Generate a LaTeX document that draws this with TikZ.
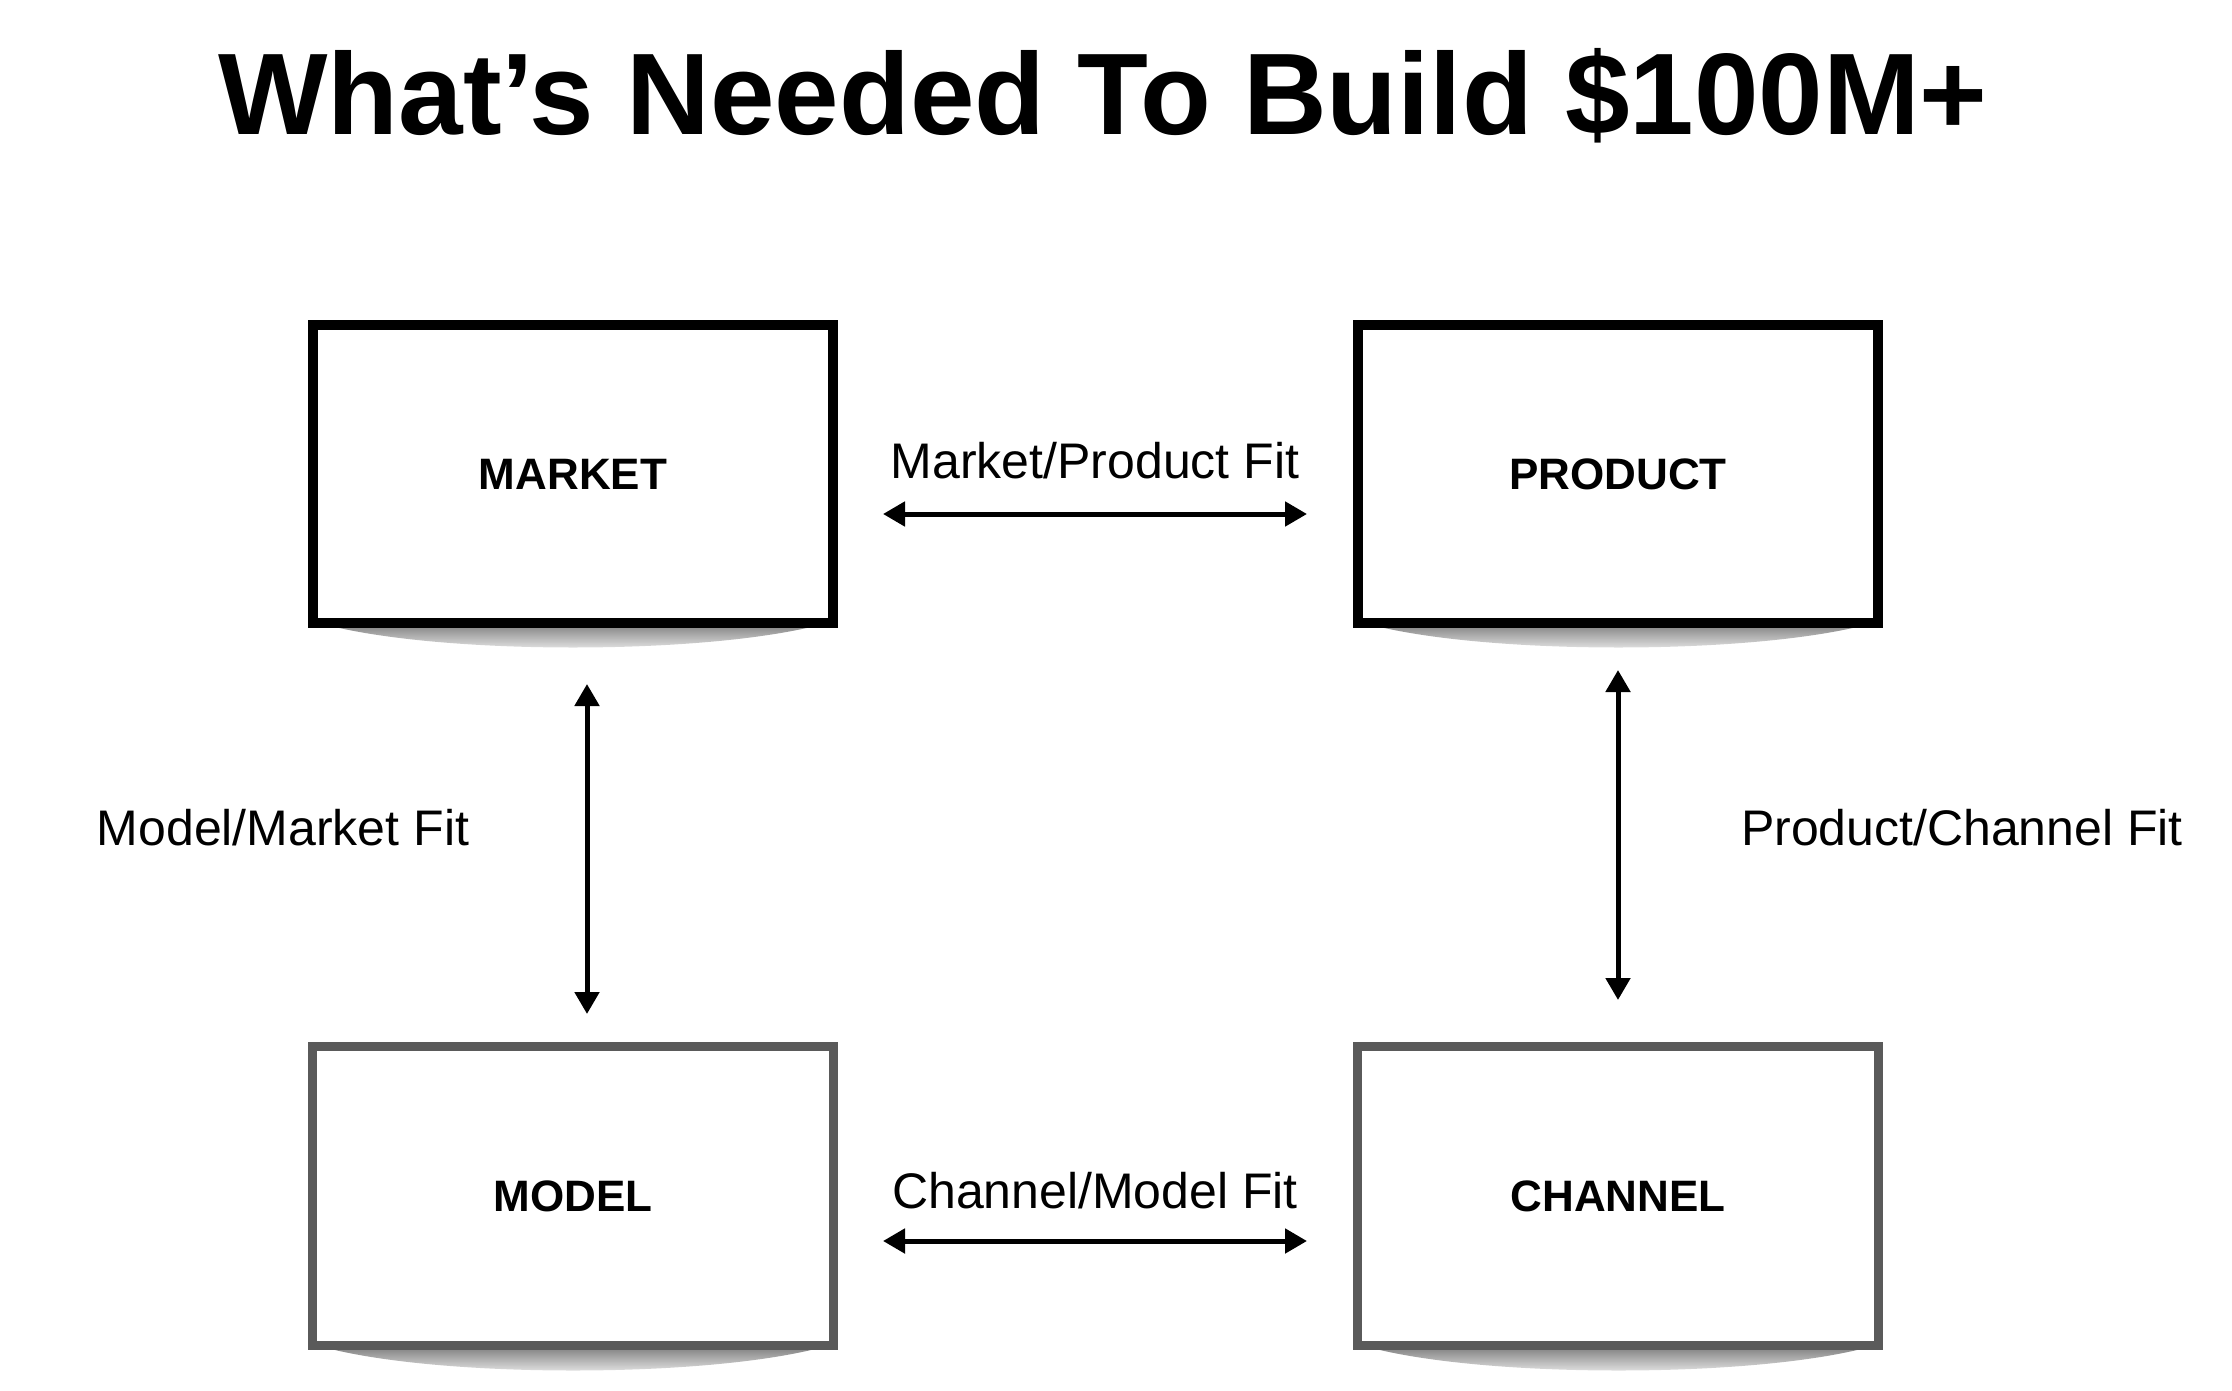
\documentclass[tikz,border=0pt]{standalone}
\usepackage{fontspec}
\setmainfont{Liberation Sans}
\usetikzlibrary{arrows.meta}
\definecolor{boxgrey}{RGB}{90,90,90}
\tikzset{
  topbox/.style={draw=black, line width=10pt, fill=white, minimum width=520pt, minimum height=298pt, inner sep=0pt,
    font=\fontsize{44}{52}\selectfont\bfseries},
  botbox/.style={topbox, draw=boxgrey, line width=9pt, minimum width=521pt, minimum height=299pt},
  fitlabel/.style={font=\fontsize{50}{60}\selectfont, anchor=base, inner sep=0pt},
  arr/.style={line width=5pt, {Triangle[length=22pt,width=24pt]}-{Triangle[length=22pt,width=24pt]}},
}
\newcommand{\boxshadow}[3]{% xleft, xright, ybottom
  \shade[top color=black!70, bottom color=white, opacity=0.75]
    (#1+6,#3-4) -- (#2-6,#3-4) .. controls (#2-120,#3+30) and (#1+120,#3+30) .. (#1+6,#3-4) -- cycle;
}
\begin{document}
\begin{tikzpicture}[x=1pt, y=-1pt]
\useasboundingbox (0,0) rectangle (2232,1391);
\fill[white] (0,0) rectangle (2232,1391);

\node[font=\fontsize{116}{130}\selectfont\bfseries, anchor=base, inner sep=0pt] (title) at (1103,135) {What’s Needed To Build \$100M+};

\boxshadow{310}{836}{626}
\boxshadow{1355}{1882}{626}
\boxshadow{310}{836}{1349}
\boxshadow{1355}{1882}{1349}

\node[topbox] (market) at (573,474) {MARKET};
\node[topbox] (product) at (1618,474) {PRODUCT};
\node[botbox] (model) at (573,1196) {MODEL};
\node[botbox] (channel) at (1618,1196) {CHANNEL};

\draw[arr] ([xshift=45pt,yshift=-40pt]market.east) -- ([xshift=-46pt,yshift=-40pt]product.west);
\draw[arr] ([xshift=45pt,yshift=-45pt]model.east) -- ([xshift=-46pt,yshift=-45pt]channel.west);
\draw[arr] ([xshift=14pt,yshift=-56pt]market.south) -- ([xshift=14pt,yshift=28pt]model.north);
\draw[arr] ([yshift=-42pt]product.south) -- ([yshift=42pt]channel.north);

\node[fitlabel] (mpfit) at (1095,478) {Market/Product Fit};
\node[fitlabel] (cmfit) at (1095,1208) {Channel/Model Fit};
\node[fitlabel] (mmfit) at (283,845) {Model/Market Fit};
\node[fitlabel] (pcfit) at (1962,845) {Product/Channel Fit};
\end{tikzpicture}
\end{document}
